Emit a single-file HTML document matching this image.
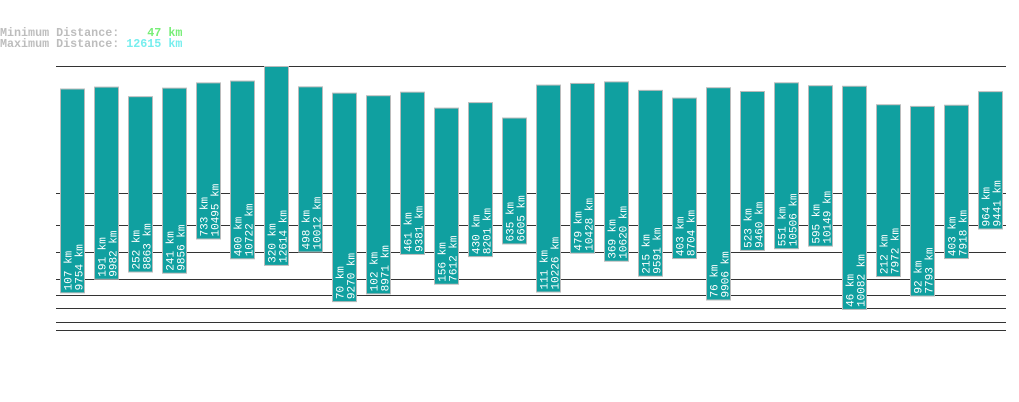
<!DOCTYPE html>
<html><head><meta charset="utf-8"><style>
html,body{margin:0;padding:0;background:#fff;width:1019px;height:402px;overflow:hidden}
svg{display:block}
</style></head><body>
<svg id="chart" width="1019" height="402" xmlns="http://www.w3.org/2000/svg">
<g font-family="Liberation Mono, monospace" font-size="11.7" font-weight="bold">
<text x="0" y="36" fill="#bdbdbd" xml:space="preserve">Minimum Distance:    <tspan fill="#77ee77">47 km</tspan></text>
<text x="0" y="47" fill="#bdbdbd" xml:space="preserve">Maximum Distance: <tspan fill="#77eeee">12615 km</tspan></text>
</g>
<g id="grid"></g>
<g id="bars"></g>
</svg>
<script>
const minKm = [107,191,252,241,733,400,320,498,70,102,461,156,430,635,111,479,369,215,403,76,523,551,595,46,212,92,403,964];
const maxKm = [9754,9982,8863,9856,10495,10722,12614,10012,9270,8971,9381,7612,8201,6605,10226,10428,10620,9591,8704,9906,9460,10506,10149,10082,7972,7793,7918,9441];
const gridYs = [66,193,225,252,279,295,308,322,330];

const NS = "http://www.w3.org/2000/svg";
const xPos = i => 60 + 34 * i;
const yTop = v => 66 + (Math.sqrt(12615) - Math.sqrt(v)) * 1.66;
const yBottom = v => 379.5 - 27.1 * Math.pow(v, 0.25);

const grid = document.getElementById('grid');
gridYs.forEach(y => {
  const l = document.createElementNS(NS, 'line');
  
  
  l.setAttribute('x1', 56); l.setAttribute('x2', 1006);
  l.setAttribute('y1', y + 0.5); l.setAttribute('y2', y + 0.5);
  l.setAttribute('stroke', '#333'); l.setAttribute('stroke-width', 1);
  grid.appendChild(l);
});

const bars = document.getElementById('bars');
minKm.forEach((mn, i) => {
  const mx = maxKm[i];
  const x = xPos(i);
  const t = yTop(mx), b = yBottom(mn);
  const r = document.createElementNS(NS, 'rect');
  
  
  r.setAttribute('x', x + 0.5); r.setAttribute('y', t + 0.5);
  r.setAttribute('width', 24); r.setAttribute('height', b - t);
  r.setAttribute('fill', '#10a0a0'); r.setAttribute('stroke', '#bbb'); r.setAttribute('stroke-width', 1);
  bars.appendChild(r);
  [[mn + ' km', x + 11.5], [mx + ' km', x + 22.5]].forEach(([s, bx], k) => {
    const tx = document.createElementNS(NS, 'text');
    
    
    tx.setAttribute('transform', 'translate(' + bx + ',' + (b - 2) + ') rotate(-90)');
    tx.setAttribute('font-family', 'Liberation Mono, monospace');
    tx.setAttribute('font-size', '11');
    tx.setAttribute('fill', '#fff');
    tx.textContent = s;
    bars.appendChild(tx);
  });
});
</script>
</body></html>
